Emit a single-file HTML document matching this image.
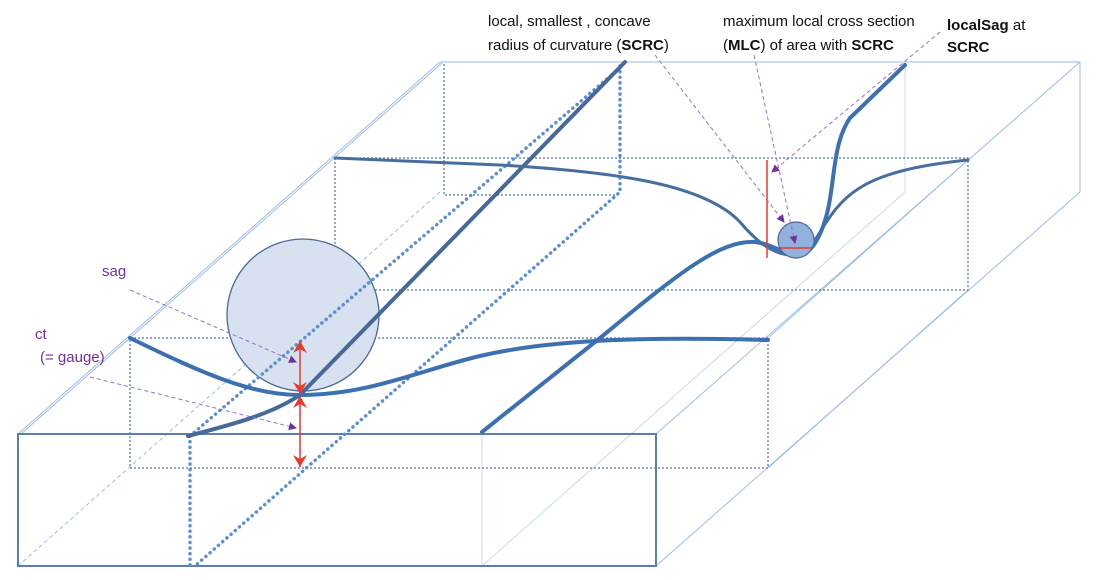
<!DOCTYPE html><html><head><meta charset="utf-8"><style>body{margin:0;background:#fff}svg{display:block}text{font-family:"Liberation Sans",sans-serif;font-size:15px}</style></head><body>
<svg width="1096" height="580" viewBox="0 0 1096 580" xmlns="http://www.w3.org/2000/svg">
<defs>
<marker id="pa" markerWidth="8" markerHeight="8" refX="7" refY="4" orient="auto" markerUnits="userSpaceOnUse"><path d="M0,0L8,4L0,8z" fill="#7030a0"/></marker>
<marker id="ra" markerWidth="14" markerHeight="14" refX="12" refY="7" orient="auto-start-reverse" markerUnits="userSpaceOnUse"><path d="M0,0L12,7L0,14L4,7z" fill="#e8392b"/></marker>
</defs>
<g fill="none" stroke="#9dbde6" stroke-width="1">
<path d="M18,434L440,62M21,434L443,62"/>
<path d="M440,62H1080V192M1080,62L656,434M1080,192L656,566"/>
<path d="M905,62V192M905,192L482,566" stroke="#c8daf0"/>
<path d="M482,434V566" stroke="#c8daf0"/>
<path d="M18,566L440,192" stroke-dasharray="4,3"/>
<path d="M768,338L968,160M768,468L968,290" />
</g>
<g fill="none" stroke="#4a72a8" stroke-width="1.2" stroke-dasharray="2,2">
<path d="M444,64V195H618"/>
<path d="M130,338H768V468H130Z"/>
<path d="M335,158H968V290H335Z"/>
</g>
<rect x="18" y="434" width="638" height="132" fill="none" stroke="#5a7fae" stroke-width="2"/>
<circle cx="303" cy="315" r="76" fill="#d7e1f0" stroke="#4a6a94" stroke-width="1.3"/>
<g fill="none" stroke="#5b8fd0" stroke-width="3.5" stroke-linecap="round" stroke-dasharray="0.1,5.5">
<path d="M190,436V566"/>
<path d="M190,436L622,66"/>
<path d="M620,66V192L195,566"/>
</g>
<g fill="none" stroke-linecap="round">
<path d="M188,436C230,425 270,415 300,395L625,62" stroke="#46699a" stroke-width="4"/>
<path d="M130,338C200,372 250,395 300,395C370,395 420,370 480,356C540,342 620,336 768,340" stroke="#3d70b0" stroke-width="4"/>
<path d="M335,158L500,165C620,172 705,185 740,222C770,258 795,262 812,245C840,200 850,172 968,160" stroke="#466f9f" stroke-width="3"/>
<path d="M482,432L600,338C680,272 720,240 755,242C785,246 800,272 818,238C838,200 828,150 850,118L905,65" stroke="#3d70b0" stroke-width="4"/>
</g>
<circle cx="796" cy="240" r="18" fill="#92b2dd" stroke="#4a6a94" stroke-width="1.2"/>
<g stroke="#e8392b" stroke-width="1.5" fill="none">
<path d="M300,341V394" marker-start="url(#ra)" marker-end="url(#ra)"/>
<path d="M300,396V467" marker-start="url(#ra)" marker-end="url(#ra)"/>
<path d="M767,160V258M780,248H812"/>
</g>
<g stroke="#9b6cc9" stroke-width="1" stroke-dasharray="4,3" fill="none">
<path d="M130,290L296,362" marker-end="url(#pa)"/>
<path d="M90,377L296,428" marker-end="url(#pa)"/>
<path d="M655,55L784,222" marker-end="url(#pa)"/>
<path d="M754,55L795,243" marker-end="url(#pa)"/>
<path d="M940,32L772,172" marker-end="url(#pa)"/>
</g>
<g fill="#7030a0"><text x="102" y="276">sag</text><text x="35" y="339">ct</text><text x="40" y="362">(= gauge)</text></g>
<g fill="#111">
<text x="488" y="26">local, smallest , concave</text>
<text x="488" y="50">radius of curvature (<tspan font-weight="bold">SCRC</tspan>)</text>
<text x="723" y="26">maximum local cross section</text>
<text x="723" y="50">(<tspan font-weight="bold">MLC</tspan>) of area with <tspan font-weight="bold">SCRC</tspan></text>
<text x="947" y="30"><tspan font-weight="bold">localSag</tspan> at</text>
<text x="947" y="52" font-weight="bold">SCRC</text>
</g>
</svg></body></html>
